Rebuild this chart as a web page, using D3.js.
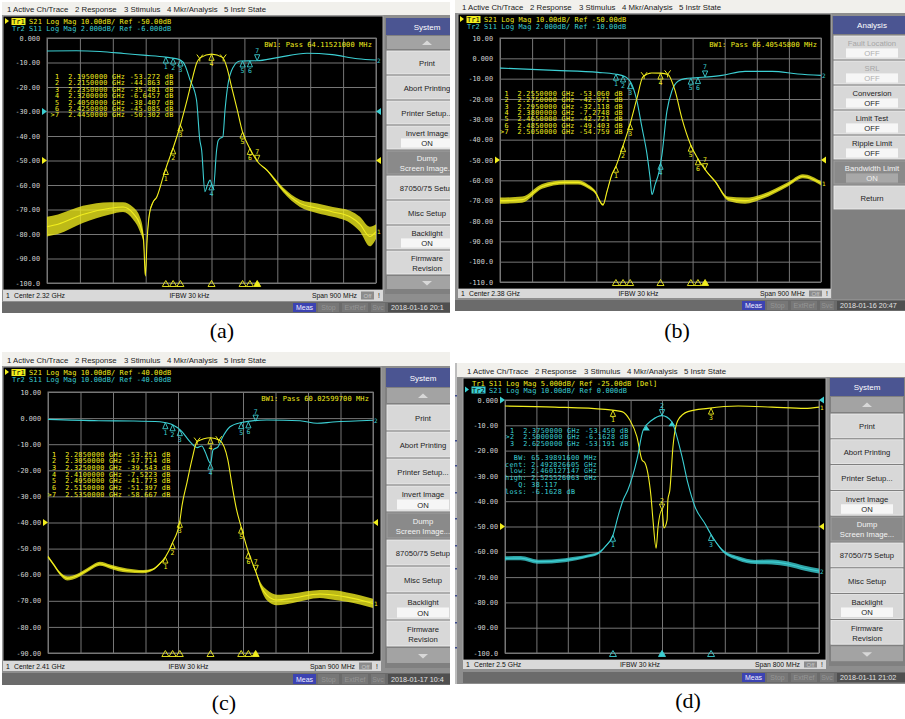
<!DOCTYPE html>
<html>
<head>
<meta charset="utf-8">
<script src="https://cdn.jsdelivr.net/npm/d3@7/dist/d3.min.js"></script>
<style>
  body { margin: 0; background: #fff; }
  svg { display: block; }
</style>
</head>
<body>
<svg id="chart" width="905" height="719"></svg>
<script>
// ---- values read off the four analyzer screens ----
// traces: [GHz, dB on the displayed grid, noise half-width in dB]

// (a)
const spanA = [1.87, 2.77];
const yTicksA = [0, -10, -20, -30, -40, -50, -60, -70, -80, -90, -100];
const hdrA = ["S21 Log Mag 10.00dB/ Ref -50.00dB", "S11 Log Mag 2.000dB/ Ref -6.000dB"];
const mkrFreqA = [2.195, 2.215, 2.235, 2.32, 2.405, 2.425, 2.445];
const mkrValA = [-53.272, -44.863, -35.481, -6.6457, -38.407, -45.085, -50.302];
const bwEdgesA = [2.288, 2.352];
const s21A = [
  [1.870, -77, 4], [1.900, -76, 4], [1.968, -72, 3.5], [2.042, -69.5, 2.5], [2.078, -69, 2],
  [2.105, -71.5, 2.5], [2.124, -76, 3], [2.134, -82, 2], [2.139, -97, 0.5], [2.144, -82, 1],
  [2.150, -72, 0.8], [2.160, -67, 0.4], [2.170, -65, 0.2], [2.188, -56.6, 0], [2.195, -53.3, 0],
  [2.215, -44.9, 0], [2.235, -35.5, 0], [2.252, -26, 0], [2.267, -17, 0], [2.280, -10, 0],
  [2.290, -8, 0], [2.320, -6.6, 0], [2.351, -8, 0], [2.362, -12, 0], [2.375, -20, 0],
  [2.390, -29, 0], [2.405, -38.4, 0], [2.425, -45.1, 0], [2.445, -50.3, 0], [2.472, -54, 0.3],
  [2.516, -62, 1], [2.562, -67.5, 1.5], [2.610, -69.5, 2], [2.652, -71, 2], [2.699, -73, 2.5],
  [2.726, -76, 3], [2.753, -81, 4], [2.770, -79, 3]
];
const s11A = [
  [1.870, -5.3], [1.950, -5.2], [2.015, -5.5], [2.080, -6.3], [2.133, -7], [2.195, -7.8],
  [2.215, -8.2], [2.235, -9], [2.247, -11], [2.261, -17], [2.279, -25.3], [2.288, -41.6],
  [2.293, -45.7], [2.302, -62.7], [2.309, -60], [2.316, -58], [2.325, -61.5], [2.334, -45.7],
  [2.338, -42], [2.343, -41], [2.351, -40.4], [2.357, -29.4], [2.364, -20], [2.379, -12],
  [2.398, -9.4], [2.444, -9.3], [2.500, -8], [2.581, -6.2], [2.650, -6.8], [2.720, -8.5], [2.770, -9]
];

// (b)
const spanB = [1.93, 2.83];
const yTicksB = [10, 0, -10, -20, -30, -40, -50, -60, -70, -80, -90, -100, -110];
const hdrB = ["S21 Log Mag 10.00dB/ Ref -50.00dB", "S11 Log Mag 2.000dB/ Ref -10.00dB"];
const mkrFreqB = [2.255, 2.275, 2.295, 2.38, 2.465, 2.485, 2.505];
const mkrValB = [-53.060, -42.971, -32.118, -7.2748, -42.721, -49.403, -54.759];
const bwEdgesB = [2.334, 2.400];
const s21B = [
  [1.930, -70, 1.5], [1.992, -69.5, 1.5], [2.048, -63, 1.2], [2.112, -61, 1], [2.149, -61, 1],
  [2.177, -63, 1], [2.196, -65.5, 0.8], [2.219, -72, 0.5], [2.230, -65.5, 0.3], [2.244, -57, 0.2],
  [2.255, -53.06, 0], [2.275, -42.97, 0], [2.295, -32.12, 0], [2.314, -19.6, 0], [2.331, -9, 0],
  [2.355, -7.2, 0], [2.380, -7.27, 0], [2.401, -7.9, 0], [2.421, -16, 0], [2.440, -29.5, 0],
  [2.465, -42.72, 0], [2.485, -49.4, 0], [2.505, -54.76, 0.2], [2.533, -60.5, 0.5], [2.569, -69, 1],
  [2.617, -70, 1.5], [2.665, -68, 1.2], [2.737, -62, 1], [2.779, -58, 1], [2.830, -61.5, 1]
];
const s11B = [
  [1.930, -4.8], [2.084, -5.9], [2.205, -6.9], [2.252, -7.7], [2.280, -8.9], [2.300, -13],
  [2.314, -21], [2.328, -34], [2.342, -47], [2.351, -59], [2.356, -67], [2.365, -62],
  [2.376, -55.7], [2.384, -47.5], [2.398, -26], [2.412, -16], [2.429, -11.3], [2.449, -10],
  [2.477, -9.6], [2.552, -8.4], [2.617, -6.4], [2.693, -6.4], [2.765, -7.7], [2.830, -8.4]
];

// (c)
const spanC = [1.96, 2.86];
const yTicksC = [10, 0, -10, -20, -30, -40, -50, -60, -70, -80, -90];
const hdrC = ["S21 Log Mag 10.00dB/ Ref -40.00dB", "S11 Log Mag 10.00dB/ Ref -40.00dB"];
const mkrFreqC = [2.285, 2.305, 2.325, 2.41, 2.495, 2.515, 2.535];
const mkrValC = [-53.251, -47.714, -39.543, -7.5223, -41.773, -51.397, -58.667];
const bwEdgesC = [2.373, 2.433];
const s21C = [
  [1.960, -53.1, 0.5], [1.975, -56, 0.5], [1.993, -59.5, 0.6], [2.013, -61.4, 0.8], [2.040, -60.5, 0.8],
  [2.068, -58.3, 0.8], [2.104, -55.8, 0.8], [2.132, -56.9, 0.8], [2.179, -58.4, 0.8], [2.223, -58.8, 0.6],
  [2.250, -58, 0.4], [2.268, -56, 0.3], [2.285, -53.25, 0], [2.305, -47.71, 0], [2.325, -39.54, 0],
  [2.331, -33.6, 0], [2.345, -24.6, 0], [2.359, -15.7, 0], [2.373, -9, 0], [2.410, -7.52, 0],
  [2.436, -8.6, 0], [2.458, -16, 0], [2.470, -26, 0], [2.482, -35, 0], [2.495, -41.77, 0],
  [2.515, -51.4, 0], [2.535, -58.67, 0.3], [2.550, -64.5, 1.2], [2.566, -67.8, 2], [2.594, -69.7, 2],
  [2.638, -69, 1.8], [2.713, -67.4, 1.5], [2.750, -67.8, 1.8], [2.788, -68.6, 1.8], [2.860, -71, 1.8]
];
const s11C = [
  [1.960, -0.5], [2.100, -1.0], [2.195, -1.1], [2.270, -1.4], [2.290, -1.9], [2.306, -2.6],
  [2.320, -3.8], [2.331, -5.2], [2.353, -9], [2.373, -11.3], [2.386, -10.7], [2.395, -12.9],
  [2.410, -17.3], [2.417, -12.2], [2.431, -11], [2.442, -7.7], [2.464, -3.3], [2.492, -1.8],
  [2.566, -0.7], [2.658, -1.0], [2.705, -2.0], [2.749, -1.5], [2.860, -0.8]
];

// (d)
const spanD = [2.10, 2.90];
const yTicksD = [0, -10, -20, -30, -40, -50, -60, -70, -80, -90, -100];
const hdrD = ["S11 Log Mag 5.000dB/ Ref -25.00dB [Del]", "S21 Log Mag 10.00dB/ Ref 0.000dB"];
const mkrFreqD = [2.375, 2.5, 2.625];
const mkrValD = [-53.450, -6.1628, -53.191];
const bwEdgesD = [2.460127147, 2.525526063];
const bwLabelsD = ["BW:", "cent:", "low:", "high:", "Q:", "loss:"];
const bwValuesD = ["65.39891600 MHz", "2.492826605 GHz", "2.460127147 GHz", "2.525526063 GHz", "38.117", "-6.1628 dB"];
const s21D = [
  [2.100, -62.6, 0.8], [2.140, -62.5, 0.8], [2.184, -63.9, 0.8], [2.253, -63.3, 0.8], [2.311, -61.7, 0.6],
  [2.337, -60.6, 0.5], [2.355, -58, 0.3], [2.375, -53.45, 0], [2.388, -46, 0], [2.401, -39.5, 0],
  [2.413, -35.6, 0], [2.436, -23.7, 0], [2.452, -11.9, 0], [2.475, -7.9, 0], [2.500, -6.16, 0],
  [2.525, -8.6, 0], [2.533, -11.9, 0], [2.551, -22.4, 0], [2.566, -32.9, 0], [2.584, -42.2, 0],
  [2.610, -49, 0], [2.625, -53.19, 0], [2.653, -59.3, 0.5], [2.694, -62.6, 0.8], [2.737, -64, 0.8],
  [2.780, -64, 1], [2.821, -64.8, 1], [2.864, -66.5, 1], [2.900, -67.6, 1]
];
const s11D = [
  [2.100, -2.4], [2.227, -2.8], [2.355, -3.7], [2.398, -4.6], [2.418, -7.9], [2.436, -14.5],
  [2.449, -23.7], [2.457, -25], [2.464, -29], [2.472, -38.2], [2.477, -47.4], [2.485, -58.6],
  [2.490, -50], [2.500, -43.5], [2.505, -50.6], [2.513, -47.4], [2.515, -39.5], [2.520, -35.6],
  [2.528, -18.4], [2.541, -7.9], [2.566, -4.6], [2.617, -3.3], [2.694, -2.4], [2.780, -2.8],
  [2.864, -3.3], [2.900, -2.8]
];

// softkey menus
const menuItems = ["1 Active Ch/Trace", "2 Response", "3 Stimulus", "4 Mkr/Analysis", "5 Instr State"];
const systemKeys = [
  {t: ["Print"]}, {t: ["Abort Printing"]}, {t: ["Printer Setup..."]},
  {t: ["Invert Image"], v: "ON"}, {t: ["Dump", "Screen Image..."], dark: true},
  {t: ["87050/75 Setup"]}, {t: ["Misc Setup"]}, {t: ["Backlight"], v: "ON"}, {t: ["Firmware", "Revision"]}
];
const analysisKeys = [
  {t: ["Fault Location"], v: "OFF", dim: true}, {t: ["SRL"], v: "OFF", dim: true},
  {t: ["Conversion"], v: "OFF"}, {t: ["Limit Test"], v: "OFF"}, {t: ["Ripple Limit"], v: "OFF"},
  {t: ["Bandwidth Limit"], v: "ON", dark: true}, {t: ["Return"]}
];

const YEL = "#f2ee1e", CYN = "#3ccfd3", GRID = "#767676";
const MONO = "DejaVu Sans Mono, monospace", UI = "Liberation Sans, Arial, sans-serif";

const svg = d3.select("#chart");
const defs = svg.append("defs");

const fmtTick = v => v === 0 ? "0.000" : Math.abs(v) >= 100 ? v.toFixed(1) : v.toFixed(2);

function valueAt(trace, f) {
  const i = d3.bisector(d => d[0]).left(trace, f);
  if (i <= 0) return trace[0][1];
  if (i >= trace.length) return trace[trace.length - 1][1];
  const a = trace[i - 1], b = trace[i];
  return a[1] + (b[1] - a[1]) * (f - a[0]) / (b[0] - a[0]);
}

function txt(g, x, y, s, size, color, font, anchor) {
  return g.append("text").attr("x", x).attr("y", y).attr("font-size", size).attr("fill", color)
    .attr("font-family", font || MONO).attr("text-anchor", anchor || "start")
    .attr("xml:space", "preserve").style("white-space", "pre").text(s);
}

function drawMarker(g, px, py, n, color, active) {
  if (active) {
    g.append("path").attr("d", `M${px},${py} L${px - 2.6},${py - 6} L${px + 2.6},${py - 6}Z`)
      .attr("fill", "none").attr("stroke", color).attr("stroke-width", 0.9);
    txt(g, px, py - 7.5, n, 6.5, color, MONO, "middle");
  } else {
    g.append("path").attr("d", `M${px},${py} L${px - 2.6},${py + 6} L${px + 2.6},${py + 6}Z`)
      .attr("fill", "none").attr("stroke", color).attr("stroke-width", 0.9);
    txt(g, px, py + 12, n, 6.5, color, MONO, "middle");
  }
}

function drawSide(g, s, title, keys) {
  const w = s.x1 - s.x0, cx = (s.x0 + s.x1) / 2;
  g.append("rect").attr("x", s.x0).attr("y", s.y0).attr("width", w).attr("height", s.y1 - s.y0).attr("fill", "#808080");
  g.append("rect").attr("x", s.x0 + 1).attr("y", s.y0).attr("width", w - 2).attr("height", s.titleH).attr("fill", "#4b5592");
  txt(g, cx, s.y0 + s.titleH / 2 + 3, title, 8, "#fff", UI, "middle");
  let ky = s.y0 + s.titleH + 1;
  const arrowBtn = (yy, up) => {
    g.append("rect").attr("x", s.x0 + 2).attr("y", yy).attr("width", w - 4).attr("height", s.arrow - 1).attr("fill", "#a3a3a3");
    const ay = yy + s.arrow / 2;
    g.append("path").attr("d", up
      ? `M${cx - 5},${ay + 2} L${cx + 5},${ay + 2} L${cx},${ay - 2.5}Z`
      : `M${cx - 5},${ay - 2} L${cx + 5},${ay - 2} L${cx},${ay + 2.5}Z`).attr("fill", "#d8d8d8");
  };
  if (s.arrow) { arrowBtn(ky, true); ky += s.arrow; }
  keys.forEach((k, i) => {
    const y0 = ky + i * s.keyH + 1, h = s.keyH - 2;
    g.append("rect").attr("x", s.x0 + 2).attr("y", y0).attr("width", w - 4).attr("height", h)
      .attr("fill", k.dark ? "#8a8a8a" : "#d8d8d8").attr("stroke", k.dark ? "#a2a2a2" : "#f0f0f0").attr("stroke-width", 0.8);
    const col = k.dark ? "#f4f4f4" : k.dim ? "#a6a6a6" : "#1e1e1e";
    if (k.v) {
      txt(g, cx, y0 + h * 0.3 + 3, k.t[0], 7.7, col, UI, "middle");
      g.append("rect").attr("x", cx - 26).attr("y", y0 + h * 0.54).attr("width", 52).attr("height", h * 0.4)
        .attr("fill", k.dark ? "#a8a8a8" : "#f6f6f6");
      txt(g, cx, y0 + h * 0.74 + 3, k.v, 7.7, k.dark ? "#eeeeee" : (k.dim ? "#b0b0b0" : "#1e1e1e"), UI, "middle");
    } else if (k.t.length === 2) {
      txt(g, cx, y0 + h * 0.3 + 3, k.t[0], 7.7, col, UI, "middle");
      txt(g, cx, y0 + h * 0.72 + 3, k.t[1], 7.7, col, UI, "middle");
    } else {
      txt(g, cx, y0 + h * 0.5 + 3, k.t[0], 7.7, col, UI, "middle");
    }
  });
  if (s.arrow) arrowBtn(ky + keys.length * s.keyH + 1, false);
}

function drawInfo(g, info, center, span, gcx) {
  const [x0, y0, x1, y1] = info, by = (y0 + y1) / 2 + 2.5;
  g.append("rect").attr("x", x0).attr("y", y0).attr("width", x1 - x0).attr("height", y1 - y0).attr("fill", "#d9d9d9");
  txt(g, x0 + 3, by, "1", 6.8, "#111", UI);
  txt(g, x0 + 11, by, center, 6.8, "#111", UI);
  txt(g, gcx - 22, by, "IFBW 30 kHz", 6.8, "#111", UI, "middle");
  txt(g, x1 - 26, by, span, 6.8, "#111", UI, "end");
  g.append("rect").attr("x", x1 - 22).attr("y", y0 + 1.5).attr("width", 13).attr("height", y1 - y0 - 3).attr("fill", "#8c8c8c");
  txt(g, x1 - 15.5, by, "Off", 6, "#c8c8c8", UI, "middle");
  txt(g, x1 - 5, by, "!", 6.8, "#111", UI);
}

function drawStatus(g, st, date) {
  const [x0, y0, x1, y1] = st, h = y1 - y0, R = x1;
  g.append("rect").attr("x", x0).attr("y", y0).attr("width", x1 - x0).attr("height", h).attr("fill", "#6b6b6b");
  const items = [
    ["Meas", R - 163, 23, "#3c43b2", "#eef"], ["Stop", R - 138, 21, "#777", "#959595"],
    ["ExtRef", R - 114, 26, "#777", "#959595"], ["Svc", R - 85, 14, "#777", "#959595"],
    [date, R - 68, 68, "#4f4f4f", "#e2e2e2"]
  ];
  items.forEach(([t, bx, bw, fill, col], i) => {
    g.append("rect").attr("x", bx).attr("y", y0 + 1).attr("width", bw).attr("height", h - 2).attr("fill", fill);
    if (i === 4) txt(g, bx + 3, y1 - 3, t, 7.2, col, UI);
    else txt(g, bx + bw / 2, y1 - 3, t, 7, col, UI, "middle");
  });
}

function drawPanel(p) {
  const [fx0, fy0, fx1, fy1] = p.frame;
  const [sx0, sy0, sx1, sy1] = p.screen;
  const [gx0, gy0, gx1, gy1] = p.grid;

  defs.append("clipPath").attr("id", "clip-" + p.id).append("rect")
    .attr("x", fx0).attr("y", fy0).attr("width", fx1 - fx0).attr("height", fy1 - fy0);
  const g = svg.append("g").attr("clip-path", `url(#clip-${p.id})`);

  // window body and menu bar
  g.append("rect").attr("x", fx0).attr("y", fy0).attr("width", fx1 - fx0).attr("height", fy1 - fy0).attr("fill", "#8e8e8e");
  g.append("rect").attr("x", fx0).attr("y", fy0).attr("width", fx1 - fx0).attr("height", sy0 - fy0 - 1).attr("fill", "#f1f0ec");
  [4, 72, 121, 164, 221].forEach((dx, i) => txt(g, sx0 + dx, sy0 - 4.5, menuItems[i], 7.8, "#222", UI));

  // black display
  g.append("rect").attr("x", sx0).attr("y", sy0).attr("width", sx1 - sx0).attr("height", sy1 - sy0)
    .attr("fill", "#000").attr("stroke", "#a8a8a8").attr("stroke-width", 1);

  const x = d3.scaleLinear().domain(p.span).range([gx0, gx1]);
  const y = d3.scaleLinear().domain(d3.extent(p.yTicks)).range([gy1, gy0]);
  const xGrid = d3.range(11).map(i => p.span[0] + i * (p.span[1] - p.span[0]) / 10);

  g.append("g").attr("transform", `translate(0,${gy1})`)
    .call(d3.axisBottom(x).tickValues(xGrid).tickSize(-(gy1 - gy0)).tickFormat(""))
    .call(a => a.select(".domain").remove())
    .call(a => a.selectAll("line").attr("stroke", GRID));
  g.append("g").attr("transform", `translate(${gx0},0)`)
    .call(d3.axisLeft(y).tickValues(p.yTicks).tickSize(-(gx1 - gx0)).tickPadding(7).tickFormat(fmtTick))
    .call(a => a.select(".domain").remove())
    .call(a => a.selectAll("line").attr("stroke", GRID))
    .call(a => a.selectAll("text").attr("fill", "#d4d4d4").attr("font-family", MONO).attr("font-size", 6.8));
  g.append("rect").attr("x", gx0).attr("y", gy0).attr("width", gx1 - gx0).attr("height", gy1 - gy0)
    .attr("fill", "none").attr("stroke", GRID);

  // header lines
  p.headers.forEach((h, i) => {
    const by = sy0 + 8 + i * 6.5, col = i === 0 ? YEL : CYN, act = p.activeTr === i;
    if (act) {
      g.append("path").attr("d", `M${sx0 + 2},${by - 6} L${sx0 + 6},${by - 3} L${sx0 + 2},${by}Z`).attr("fill", col);
      g.append("rect").attr("x", sx0 + 8.5).attr("y", by - 6).attr("width", 14).attr("height", 7).attr("fill", col);
    }
    txt(g, sx0 + 9, by, "Tr" + (i + 1), 7, act ? "#000" : col);
    txt(g, sx0 + 26, by, h, 7, col).attr("letter-spacing", 0.1);
  });

  // reference arrows
  p.traces.forEach(t => {
    if (t.ref == null) return;
    const ry = y(t.ref);
    g.append("path").attr("d", `M${gx0 - 5},${ry - 3.5} L${gx0},${ry} L${gx0 - 5},${ry + 3.5}Z`).attr("fill", t.color);
    g.append("path").attr("d", `M${gx1 + 5},${ry - 3.5} L${gx1},${ry} L${gx1 + 5},${ry + 3.5}Z`).attr("fill", t.color);
  });

  // traces (noisy stretches drawn as a filled band around the line)
  const gt = g.append("g");
  const line = d3.line().x(d => x(d[0])).y(d => y(d[1])).curve(d3.curveMonotoneX);
  const band = d3.area().x(d => x(d[0])).y0(d => y(d[1] - (d[2] || 0))).y1(d => y(d[1] + (d[2] || 0))).curve(d3.curveMonotoneX);
  p.traces.forEach(t => {
    if (t.data.some(d => d[2])) {
      gt.append("path").attr("d", band(t.data)).attr("fill", t.color).attr("fill-opacity", 0.78);
    }
    gt.append("path").attr("d", line(t.data)).attr("fill", "none").attr("stroke", t.color).attr("stroke-width", 1.1);
    const last = t.data[t.data.length - 1];
    txt(g, gx1 + 1, y(last[1]) + 2.5, t.endLabel, 6, t.color);
  });

  // markers on both traces
  p.traces.forEach(t => {
    const isActive = t.tr === p.activeTr;
    p.mkr.freqs.forEach((f, i) => {
      const v = isActive ? p.mkr.vals[i] : valueAt(t.data, f);
      drawMarker(g, x(f), y(v), String(i + 1), t.color, i === p.mkr.active);
    });
  });

  // bandwidth edge markers on the active trace
  const actTrace = p.traces.find(t => t.tr === p.activeTr);
  p.bwEdges.forEach(f => {
    const px = x(f), py = y(valueAt(actTrace.data, f));
    if (p.id === "d") {
      g.append("path").attr("d", `M${px},${py - 1} L${px - 3.5},${py + 4} L${px + 3.5},${py + 4}Z`).attr("fill", actTrace.color);
    } else {
      g.append("path").attr("d", `M${px - 3},${py - 4} L${px},${py} L${px + 3},${py - 4} M${px},${py} L${px},${py + 3}`)
        .attr("fill", "none").attr("stroke", actTrace.color).attr("stroke-width", 1);
    }
  });

  // stimulus markers along the bottom edge
  p.mkr.freqs.forEach((f, i) => {
    const px = x(f);
    g.append("path").attr("d", `M${px},${gy1 - 2.5} L${px - 3.5},${gy1 + 3.5} L${px + 3.5},${gy1 + 3.5}Z`)
      .attr("fill", i === p.mkr.active ? actTrace.color : "none").attr("stroke", actTrace.color).attr("stroke-width", 0.9);
  });

  // marker readout table
  p.mkr.freqs.forEach((f, i) => {
    const s = (i === p.mkr.active ? ">" : " ") + (i + 1) + "  " + f.toFixed(7) + " GHz " + p.mkr.vals[i].toPrecision(5) + " dB";
    txt(g, p.table.x, p.table.y + i * p.table.dy, s, 6.8, actTrace.color).attr("letter-spacing", 0.3);
  });

  if (p.bwText) txt(g, gx1 - 4, gy0 + 9, p.bwText, 7, YEL, MONO, "end").attr("letter-spacing", 0.1);
  if (p.bwBlock) {
    p.bwBlock.labels.forEach((l, i) => {
      txt(g, p.bwBlock.x, p.bwBlock.y + i * p.bwBlock.dy, l.padStart(5) + " " + p.bwBlock.values[i], 6.8, CYN)
        .attr("letter-spacing", 0.3);
    });
  }

  drawInfo(g, p.info, p.center, p.spanText, (gx0 + gx1) / 2);
  drawSide(g, p.side, p.title, p.keys);
  drawStatus(g, p.status, p.date);

  txt(svg, p.caption.x, p.caption.y, p.caption.t, 22, "#000", "Liberation Serif, Times New Roman, serif", "middle");
}

const panels = [
  {
    id: "a", frame: [2, 2, 450, 313], screen: [3, 16, 383, 290], grid: [47, 38, 376, 283],
    span: spanA, yTicks: yTicksA, headers: hdrA, activeTr: 0,
    traces: [
      {data: s11A, color: CYN, tr: 1, ref: -30, endLabel: "2"},
      {data: s21A, color: YEL, tr: 0, ref: -50, endLabel: "1"}
    ],
    mkr: {freqs: mkrFreqA, vals: mkrValA, active: 6}, bwEdges: bwEdgesA,
    table: {x: 50.6, y: 79, dy: 6.4}, bwText: "BW1: Pass 64.11521000 MHz",
    center: "Center 2.32 GHz", spanText: "Span 900 MHz", info: [3, 290, 383, 301],
    side: {x0: 385, x1: 469, y0: 18, y1: 294, titleH: 17, arrow: 14, keyH: 25}, title: "System", keys: systemKeys,
    status: [2, 302, 456, 313], date: "2018-01-16 20:1",
    caption: {t: "(a)", x: 222, y: 338}
  },
  {
    id: "b", frame: [455, 0, 905, 311], screen: [458, 14, 831, 289], grid: [500, 38, 821, 282],
    span: spanB, yTicks: yTicksB, headers: hdrB, activeTr: 0,
    traces: [
      {data: s11B, color: CYN, tr: 1, ref: null, endLabel: "2"},
      {data: s21B, color: YEL, tr: 0, ref: -50, endLabel: "1"}
    ],
    mkr: {freqs: mkrFreqB, vals: mkrValB, active: 6}, bwEdges: bwEdgesB,
    table: {x: 500, y: 96, dy: 6.3}, bwText: "BW1: Pass 66.40545800 MHz",
    center: "Center 2.38 GHz", spanText: "Span 900 MHz", info: [458, 289, 831, 298],
    side: {x0: 832, x1: 912, y0: 16, y1: 299, titleH: 18, arrow: 0, keyH: 25}, title: "Analysis", keys: analysisKeys,
    status: [455, 300, 905, 311], date: "2018-01-16 20:47",
    caption: {t: "(b)", x: 677, y: 338}
  },
  {
    id: "c", frame: [2, 352, 450, 685], screen: [3, 367, 381, 661], grid: [48, 392, 373, 653],
    span: spanC, yTicks: yTicksC, headers: hdrC, activeTr: 0,
    traces: [
      {data: s11C, color: CYN, tr: 1, ref: null, endLabel: "2"},
      {data: s21C, color: YEL, tr: 0, ref: -40, endLabel: "1"}
    ],
    mkr: {freqs: mkrFreqC, vals: mkrValC, active: 6}, bwEdges: bwEdgesC,
    table: {x: 47.6, y: 456.5, dy: 6.7}, bwText: "BW1: Pass 60.02599700 MHz",
    center: "Center 2.41 GHz", spanText: "Span 900 MHz", info: [3, 661, 381, 671],
    side: {x0: 385, x1: 461, y0: 368, y1: 668, titleH: 19, arrow: 16, keyH: 27}, title: "System", keys: systemKeys,
    status: [2, 673, 456, 685], date: "2018-01-17 10:4",
    caption: {t: "(c)", x: 224, y: 710}
  },
  {
    id: "d", frame: [457, 363, 905, 684], screen: [463, 378, 826, 660], grid: [505, 400, 819, 653],
    span: spanD, yTicks: yTicksD, headers: hdrD, activeTr: 1,
    traces: [
      {data: s11D, color: YEL, tr: 0, ref: -50, endLabel: "1"},
      {data: s21D, color: CYN, tr: 1, ref: 0, endLabel: "2"}
    ],
    mkr: {freqs: mkrFreqD, vals: mkrValD, active: 1}, bwEdges: bwEdgesD,
    table: {x: 505.6, y: 432.5, dy: 6.5}, bwText: null,
    bwBlock: {labels: bwLabelsD, values: bwValuesD, x: 505, y: 460, dy: 6.7},
    center: "Center 2.5 GHz", spanText: "Span 800 MHz", info: [463, 660, 826, 669],
    side: {x0: 829, x1: 905, y0: 378, y1: 666, titleH: 18, arrow: 16, keyH: 25.8}, title: "System", keys: systemKeys,
    status: [463, 672, 905, 683], date: "2018-01-11 21:02",
    caption: {t: "(d)", x: 688, y: 708}
  }
];

// edge of a neighbouring window left of (d)
svg.append("rect").attr("x", 455).attr("y", 363).attr("width", 7).attr("height", 321).attr("fill", "#bdbdbd");
[395, 440, 465, 492, 518, 545, 568, 595, 622, 647].forEach(yy =>
  svg.append("rect").attr("x", 455).attr("y", yy).attr("width", 7).attr("height", 1.5).attr("fill", "#3d4b8c"));

panels.forEach(drawPanel);
</script>
</body>
</html>
